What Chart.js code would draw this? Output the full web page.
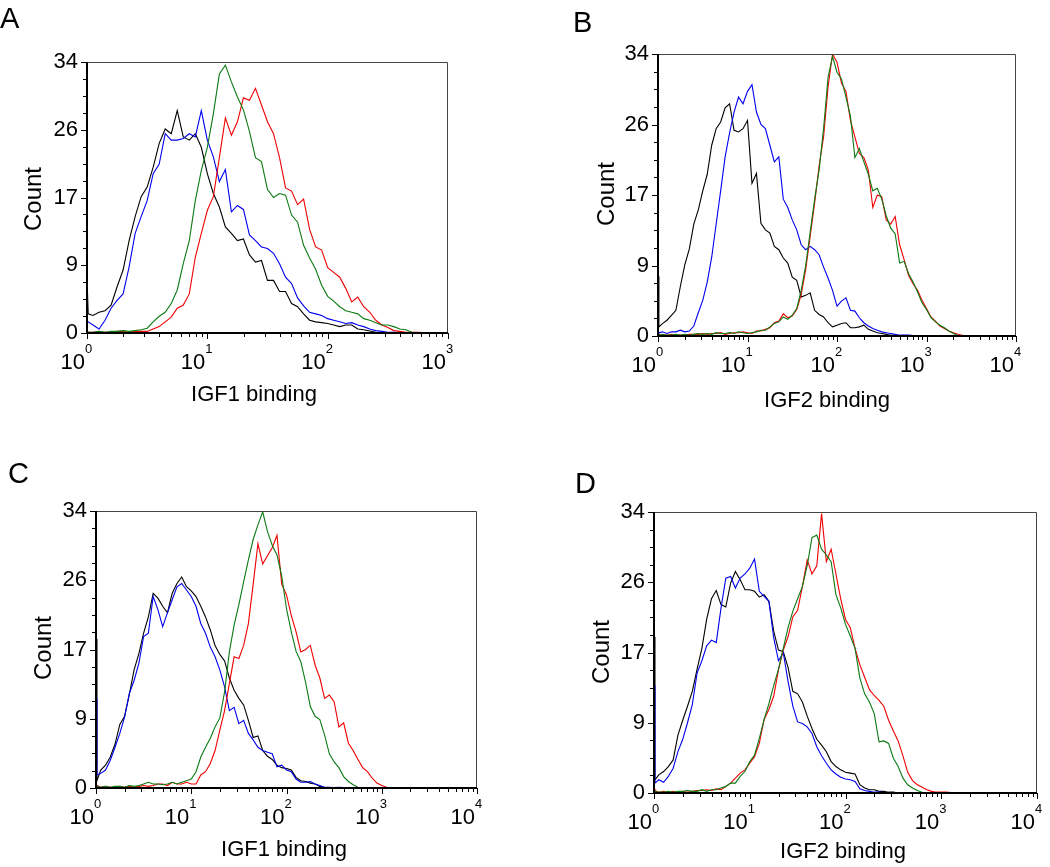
<!DOCTYPE html>
<html>
<head>
<meta charset="utf-8">
<script src="https://cdn.jsdelivr.net/npm/chart.js@4.4.0/dist/chart.umd.min.js"></script>
<style>
  body { margin: 0; background: #fff; width: 1050px; height: 867px; position: relative; overflow: hidden; }
  .panel { position: absolute; }
</style>
</head>
<body>
<div class="panel" style="left:0;top:0;width:525px;height:434px"><canvas id="cA"></canvas></div>
<div class="panel" style="left:525px;top:0;width:525px;height:434px"><canvas id="cB"></canvas></div>
<div class="panel" style="left:0;top:434px;width:525px;height:433px"><canvas id="cC"></canvas></div>
<div class="panel" style="left:525px;top:434px;width:525px;height:433px"><canvas id="cD"></canvas></div>
<script>
// fluorescence channel positions, as log10 of the binding value
const binsA = [0, 0.01, 0.05, 0.1, 0.15, 0.2, 0.25, 0.3, 0.35, 0.4,
  0.45, 0.5, 0.55, 0.6, 0.65, 0.7, 0.75, 0.8, 0.85, 0.9,
  0.95, 1, 1.05, 1.1, 1.15, 1.2, 1.25, 1.3, 1.35, 1.4,
  1.45, 1.5, 1.55, 1.6, 1.65, 1.7, 1.75, 1.8, 1.85, 1.9,
  1.95, 2, 2.05, 2.1, 2.15, 2.2, 2.25, 2.3, 2.35, 2.4,
  2.45, 2.5, 2.55, 2.6, 2.65, 2.7, 2.75, 2.8, 2.85, 2.9];
const binsB = binsA.concat([2.95, 3, 3.05, 3.1, 3.15, 3.2, 3.25, 3.3, 3.35, 3.4, 3.45]);
const binsC = binsA.concat([2.95, 3, 3.05, 3.1]);
const binsD = binsA.concat([2.95, 3, 3.05, 3.1, 3.15, 3.2]);

// A - IGF1 binding
const blackA = [7.0, 2.4, 2.2, 2.6, 2.8, 3.5, 5.8, 7.9, 11.6, 14.6,
  17.1, 18.3, 20.8, 23.8, 25.6, 25.0, 27.9, 24.6, 24.2, 25.0,
  23.3, 20.0, 17.5, 15.8, 13.3, 12.5, 11.6, 11.8, 9.8, 8.9,
  9.1, 6.6, 6.6, 5.2, 5.2, 3.7, 3.3, 2.4, 1.6, 1.4,
  1.3, 1.2, 1.0, 0.8, 1.0, 1.0, 0.5, 0.4, 0.25, 0.1,
  0, 0, 0, 0, 0, 0, 0, 0, 0, 0];
const blueA = [1.6, 1.4, 1.0, 0.5, 1.6, 3.1, 4.1, 4.9, 8.3, 12.5,
  14.6, 16.6, 20.0, 21.2, 25.0, 24.2, 24.2, 24.4, 25.0, 24.6,
  27.9, 24.2, 22.1, 19.0, 20.5, 15.2, 16.0, 15.5, 12.3, 11.6,
  10.8, 10.6, 10.0, 8.7, 7.0, 6.2, 4.4, 3.4, 2.6, 2.4,
  2.2, 1.8, 1.6, 1.4, 1.2, 1.3, 1.0, 0.8, 0.5, 0.3,
  0.2, 0.1, 0.1, 0.05, 0.05, 0.05, 0, 0, 0, 0];
const greenA = [0.1, 0.1, 0.1, 0.2, 0.1, 0.2, 0.2, 0.3, 0.2, 0.3,
  0.4, 0.6, 1.4, 2.1, 2.6, 3.7, 5.4, 8.7, 11.6, 16.6,
  20.4, 23.3, 27.5, 32.5, 33.6, 31.5, 29.6, 28.0, 25.3, 22.0,
  21.5, 18.0, 17.0, 17.5, 17.3, 14.8, 13.9, 11.0, 9.4, 8.0,
  6.0, 4.6, 4.0, 3.3, 2.8, 2.6, 2.4, 1.8, 1.6, 1.3,
  1.0, 1.0, 0.8, 0.5, 0.4, 0.1, 0, 0, 0, 0];
const redA = [0.2, 0.1, 0.1, 0.2, 0.1, 0.1, 0.2, 0.2, 0.1, 0.2,
  0.2, 0.2, 0.5, 0.8, 1.4, 2.0, 3.1, 3.5, 4.9, 9.5,
  12.5, 15.4, 17.1, 22.0, 27.0, 24.8, 26.5, 29.5, 29.2, 30.7,
  28.6, 26.5, 25.0, 22.0, 18.2, 17.8, 16.1, 16.8, 13.0, 10.8,
  10.4, 8.2, 7.6, 7.0, 5.6, 3.9, 4.5, 3.3, 2.6, 1.6,
  1.0, 0.7, 0.3, 0.2, 0.1, 0.1, 0.1, 0.05, 0, 0];

// B - IGF2 binding
const blackB = [7.2, 1.1, 1.5, 1.9, 2.5, 3.1, 6.0, 8.6, 10.5, 13.5,
  15.2, 17.5, 19.5, 23.0, 25.0, 25.8, 27.5, 28.0, 24.8, 24.6,
  25.0, 26.0, 18.4, 19.6, 13.6, 12.8, 12.4, 10.8, 10.4, 9.4,
  8.8, 7.1, 6.7, 4.7, 4.9, 5.2, 3.1, 2.6, 2.3, 1.6,
  1.1, 1.3, 1.5, 1.6, 1.0, 1.0, 1.1, 1.3, 0.8, 0.6,
  0.4, 0.3, 0.2, 0.1, 0.05, 0, 0, 0, 0, 0,
  0, 0, 0, 0, 0, 0, 0, 0, 0, 0, 0];
const blueB = [0.3, 0.4, 0.5, 0.3, 0.5, 0.5, 0.7, 0.5, 0.6, 1.2,
  2.8, 4.3, 6.5, 9.5, 13.5, 17.5, 21.6, 24.5, 27.0, 28.8,
  28.0, 29.5, 30.3, 27.0, 25.5, 25.0, 23.0, 21.0, 21.6, 16.5,
  15.5, 14.0, 12.8, 11.0, 10.4, 10.8, 10.4, 9.8, 8.3, 7.0,
  5.5, 3.6, 4.2, 4.6, 3.1, 3.0, 2.2, 1.6, 1.2, 0.9,
  0.7, 0.5, 0.4, 0.3, 0.2, 0.1, 0.1, 0.1, 0.05, 0.05,
  0.05, 0, 0, 0, 0, 0, 0, 0, 0, 0, 0];
const greenB = [0.1, 0.1, 0.2, 0.1, 0.1, 0.2, 0.1, 0.2, 0.1, 0.2,
  0.3, 0.2, 0.3, 0.2, 0.4, 0.3, 0.3, 0.4, 0.3, 0.5,
  0.4, 0.3, 0.4, 0.5, 0.7, 0.7, 1.1, 1.5, 1.7, 2.3,
  2.0, 2.5, 3.3, 5.5, 8.5, 12.5, 16.5, 20.0, 25.0, 31.2,
  33.7, 31.8, 31.0, 28.8, 26.5, 21.5, 22.6, 21.0, 19.5, 17.5,
  17.8, 16.5, 14.5, 13.0, 12.3, 8.8, 9.0, 7.5, 6.5, 5.3,
  4.0, 3.2, 2.2, 1.7, 1.3, 1.0, 0.6, 0.3, 0.05, 0, 0];
const redB = [0.1, 0.2, 0.1, 0.1, 0.2, 0.1, 0.1, 0.1, 0.2, 0.2,
  0.2, 0.3, 0.2, 0.3, 0.3, 0.4, 0.2, 0.3, 0.4, 0.4,
  0.5, 0.4, 0.3, 0.6, 0.6, 0.8, 1.0, 1.6, 1.8, 2.7,
  2.2, 2.4, 3.2, 5.0, 8.0, 12.0, 16.0, 20.5, 24.0, 30.0,
  34.0, 33.0, 30.5, 29.5, 26.0, 24.0, 22.0, 21.5, 20.0, 15.5,
  17.0, 16.8, 14.0, 13.5, 14.4, 11.0, 9.2, 7.3, 6.3, 5.5,
  4.3, 3.3, 2.3, 1.8, 1.2, 0.9, 0.6, 0.4, 0.2, 0.1, 0];

// C - IGF1 binding
const blackC = [18.3, 0.9, 2.2, 2.8, 3.8, 5.4, 7.8, 8.8, 11.5, 14.5,
  16.5, 19.0, 21.0, 23.9, 23.3, 22.3, 21.5, 23.9, 25.1, 25.9,
  24.7, 24.2, 23.5, 22.3, 21.0, 19.4, 17.5, 16.4, 15.6, 13.5,
  12.0, 11.0, 10.2, 8.3, 6.2, 6.4, 4.6, 3.9, 3.5, 2.8,
  2.5, 2.4, 2.2, 1.3, 0.9, 0.8, 0.6, 0.5, 0.2, 0.05,
  0, 0, 0, 0, 0, 0, 0, 0, 0, 0,
  0, 0, 0, 0];
const blueC = [11.0, 1.6, 1.8, 2.2, 3.4, 5.0, 6.7, 8.7, 11.6, 13.2,
  15.3, 18.6, 19.0, 23.5, 21.9, 19.8, 21.5, 23.1, 24.7, 25.1,
  24.3, 23.5, 22.3, 20.2, 19.0, 17.3, 16.1, 14.5, 12.4, 9.5,
  9.9, 7.9, 8.3, 6.7, 5.9, 5.0, 4.6, 4.4, 4.2, 2.6,
  2.8, 2.2, 2.0, 1.1, 0.7, 0.7, 0.8, 0.5, 0.3, 0.1,
  0.1, 0.05, 0.1, 0.05, 0.05, 0.05, 0, 0, 0, 0,
  0, 0, 0, 0];
const greenC = [0.3, 0.2, 0.1, 0.2, 0.1, 0.2, 0.2, 0.1, 0.3, 0.2,
  0.3, 0.5, 0.7, 0.5, 0.5, 0.4, 0.5, 0.7, 0.5, 0.7,
  0.9, 1.1, 2.0, 3.8, 5.0, 6.1, 7.5, 8.6, 11.8, 16.7,
  20.0, 22.5, 25.3, 28.0, 30.5, 32.3, 33.9, 31.5, 29.8, 28.6,
  26.0, 22.0, 19.2, 16.8, 15.5, 13.0, 10.0, 8.8, 8.4, 6.5,
  4.2, 3.2, 2.5, 1.4, 0.8, 0.4, 0.1, 0, 0, 0,
  0, 0, 0, 0];
const redC = [0.4, 0.3, 0.1, 0.2, 0.1, 0.1, 0.2, 0.1, 0.2, 0.1,
  0.2, 0.3, 0.2, 0.3, 0.5, 0.5, 0.3, 0.7, 0.5, 0.5,
  0.7, 0.5, 0.5, 1.6, 2.0, 3.0, 4.6, 7.1, 9.5, 12.8,
  16.1, 15.9, 17.5, 20.2, 25.0, 30.0, 27.5, 28.5, 29.5, 31.0,
  25.0, 23.7, 21.2, 19.2, 16.7, 17.0, 17.5, 15.1, 13.5, 11.0,
  11.4, 10.6, 7.5, 8.0, 5.5, 4.6, 3.5, 2.5, 2.0, 1.2,
  0.6, 0.3, 0.1, 0];

// D - IGF2 binding
const blackD = [18.9, 1.6, 2.2, 2.6, 3.2, 4.0, 7.0, 8.8, 10.5, 12.3,
  15.0, 17.5, 21.0, 23.5, 24.5, 22.8, 22.5, 25.4, 26.8, 25.8,
  24.6, 24.6, 24.4, 23.7, 24.0, 23.2, 19.6, 17.3, 17.1, 15.2,
  12.3, 12.0, 11.0, 9.3, 7.8, 6.5, 5.8, 5.0, 3.8, 3.2,
  2.8, 2.5, 2.4, 2.3, 1.0, 0.6, 0.4, 0.4, 0.2, 0.2,
  0.1, 0.1, 0, 0, 0, 0, 0, 0, 0, 0,
  0, 0, 0, 0, 0, 0];
const blueD = [13.0, 1.2, 1.6, 1.3, 2.0, 3.0, 5.0, 6.5, 8.5, 10.7,
  14.5, 16.0, 17.8, 18.5, 18.2, 22.4, 26.0, 26.2, 24.8, 26.0,
  26.5, 27.2, 28.3, 24.4, 23.8, 23.2, 18.8, 16.0, 17.0, 13.5,
  10.5, 8.6, 8.4, 8.0, 7.2, 5.6, 4.5, 3.6, 2.8, 2.3,
  1.9, 1.7, 1.6, 1.4, 0.5, 0.3, 0.2, 0.1, 0.1, 0.05,
  0, 0, 0, 0, 0, 0, 0, 0, 0, 0,
  0, 0, 0, 0, 0, 0];
const greenD = [0.3, 0.2, 0.1, 0.1, 0.2, 0.1, 0.2, 0.2, 0.3, 0.2,
  0.2, 0.4, 0.2, 0.4, 0.4, 0.6, 0.8, 1.2, 1.2, 2.0,
  2.6, 3.8, 4.6, 6.6, 8.9, 10.8, 13.0, 15.0, 17.5, 20.0,
  22.0, 23.5, 25.0, 27.5, 30.9, 31.2, 29.5, 28.8, 28.0, 24.0,
  22.4, 20.4, 19.0, 17.5, 13.9, 12.0, 11.0, 9.6, 6.2, 6.3,
  6.0, 4.2, 3.2, 1.8, 1.0, 0.6, 0.3, 0.1, 0, 0,
  0, 0, 0, 0, 0, 0];
const redD = [0.5, 0.3, 0.1, 0.2, 0.1, 0.2, 0.1, 0.2, 0.1, 0.2,
  0.3, 0.3, 0.4, 0.3, 0.5, 0.4, 0.8, 1.2, 1.8, 2.4,
  2.8, 3.6, 4.4, 6.0, 8.9, 10.1, 11.7, 14.9, 17.3, 18.9,
  21.3, 22.1, 25.0, 28.2, 26.5, 27.5, 33.8, 28.0, 29.5, 26.5,
  23.5, 21.0, 20.0, 17.5, 15.5, 14.0, 12.5, 11.8, 11.2, 10.5,
  8.8, 7.5, 6.3, 4.5, 2.5, 1.5, 1.0, 0.7, 0.4, 0.2,
  0.1, 0.1, 0.1, 0.05, 0, 0];

// axis labels
const yTickValues = [0, 8.5, 17, 25.5, 34];
const yTickLabels = ['0', '9', '17', '26', '34'];
const yMinorStep = 2.125;

const FONT = '"Liberation Sans", Arial, Helvetica, sans-serif';
const colors = { black: '#000000', blue: '#0000f0', green: '#0b7a12', red: '#f00000' };

// panel layout (canvas coordinates)
const panels = [
  { id: 'cA', letter: 'A', title: 'IGF1 binding', decades: 3, bins: binsA,
    series: { green: greenA, red: redA, blue: blueA, black: blackA },
    pad: { left: 87, top: 62, right: 77, bottom: 101 },
    letterAt: [0, 28], titleAt: [254, 401], countAt: [34, 199] },
  { id: 'cB', letter: 'B', title: 'IGF2 binding', decades: 4, bins: binsB,
    series: { green: greenB, red: redB, blue: blueB, black: blackB },
    pad: { left: 133, top: 54, right: 34, bottom: 98 },
    letterAt: [48, 32], titleAt: [302, 407], countAt: [82, 194] },
  { id: 'cC', letter: 'C', title: 'IGF1 binding', decades: 4, bins: binsC,
    series: { green: greenC, red: redC, blue: blueC, black: blackC },
    pad: { left: 96, top: 77, right: 48, bottom: 79 },
    letterAt: [8, 49], titleAt: [284, 422], countAt: [44, 214] },
  { id: 'cD', letter: 'D', title: 'IGF2 binding', decades: 4, bins: binsD,
    series: { green: greenD, red: redD, blue: blueD, black: blackD },
    pad: { left: 129, top: 78, right: 13, bottom: 74 },
    letterAt: [50, 59], titleAt: [318, 424], countAt: [77, 218] }
];

// draws the frame, ticks, labels and titles for one panel
const flowAxes = {
  id: 'flowAxes',
  afterDraw(chart) {
    const p = chart.options.plugins.flowAxes;
    const { ctx, chartArea: a, scales: { x, y } } = chart;
    ctx.save();
    ctx.fillStyle = '#000';

    // top / right frame
    ctx.strokeStyle = '#444';
    ctx.lineWidth = 1;
    ctx.beginPath();
    ctx.moveTo(a.left, a.top + 0.5);
    ctx.lineTo(a.right - 0.5, a.top + 0.5);
    ctx.lineTo(a.right - 0.5, a.bottom);
    ctx.stroke();

    // left / bottom axes
    ctx.strokeStyle = '#000';
    ctx.lineWidth = 2;
    ctx.beginPath();
    ctx.moveTo(a.left, a.top);
    ctx.lineTo(a.left, a.bottom);
    ctx.lineTo(a.right, a.bottom);
    ctx.stroke();

    // y ticks
    ctx.lineWidth = 1;
    for (let v = 0; v <= 34.001; v += yMinorStep) {
      const py = Math.round(y.getPixelForValue(v)) + 0.5;
      ctx.beginPath();
      ctx.moveTo(a.left - 4, py);
      ctx.lineTo(a.left, py);
      ctx.stroke();
    }
    ctx.font = '22px ' + FONT;
    ctx.textAlign = 'right';
    ctx.textBaseline = 'middle';
    yTickValues.forEach((v, i) => {
      const py = y.getPixelForValue(v);
      ctx.beginPath();
      ctx.moveTo(a.left - 6, Math.round(py) + 0.5);
      ctx.lineTo(a.left, Math.round(py) + 0.5);
      ctx.stroke();
      ctx.fillText(yTickLabels[i], a.left - 9, py);
    });

    // x ticks (log decades)
    for (let d = 0; d < p.decades; d++) {
      for (let m = 2; m <= 9; m++) {
        const px = Math.round(x.getPixelForValue(m * Math.pow(10, d))) + 0.5;
        ctx.beginPath();
        ctx.moveTo(px, a.bottom);
        ctx.lineTo(px, a.bottom + 4);
        ctx.stroke();
      }
    }
    for (let d = 0; d <= p.decades; d++) {
      const px = x.getPixelForValue(Math.pow(10, d));
      ctx.beginPath();
      ctx.moveTo(Math.round(px) + 0.5, a.bottom);
      ctx.lineTo(Math.round(px) + 0.5, a.bottom + 6);
      ctx.stroke();
      ctx.textBaseline = 'alphabetic';
      ctx.font = '22px ' + FONT;
      ctx.textAlign = 'right';
      ctx.fillText('10', px - 2, a.bottom + 36);
      ctx.font = '13px ' + FONT;
      ctx.textAlign = 'left';
      ctx.fillText(String(d), px - 2, a.bottom + 20);
    }

    // axis titles
    ctx.font = '22px ' + FONT;
    ctx.textAlign = 'center';
    ctx.textBaseline = 'alphabetic';
    ctx.fillText(p.title, p.titleAt[0], p.titleAt[1]);

    ctx.save();
    ctx.translate(p.countAt[0], p.countAt[1]);
    ctx.rotate(-Math.PI / 2);
    ctx.font = '24px ' + FONT;
    ctx.textBaseline = 'middle';
    ctx.fillText('Count', 0, 0);
    ctx.restore();

    // panel letter
    ctx.font = '29px ' + FONT;
    ctx.textAlign = 'left';
    ctx.fillText(p.letter, p.letterAt[0], p.letterAt[1]);
    ctx.restore();
  }
};

panels.forEach(p => {
  const datasets = Object.keys(p.series).map(name => ({
    label: name,
    data: p.series[name].map((v, i) => ({ x: Math.pow(10, p.bins[i]), y: v })),
    borderColor: colors[name],
    borderWidth: 1.1,
    pointRadius: 0,
    tension: 0,
    fill: false
  }));

  new Chart(document.getElementById(p.id), {
    type: 'line',
    data: { datasets },
    options: {
      responsive: true,
      maintainAspectRatio: false,
      animation: false,
      layout: { padding: p.pad },
      plugins: {
        legend: { display: false },
        tooltip: { enabled: false },
        flowAxes: p
      },
      scales: {
        x: { type: 'logarithmic', min: 1, max: Math.pow(10, p.decades), display: false },
        y: { type: 'linear', min: 0, max: 34, display: false }
      }
    },
    plugins: [flowAxes]
  });
});
</script>
</body>
</html>
